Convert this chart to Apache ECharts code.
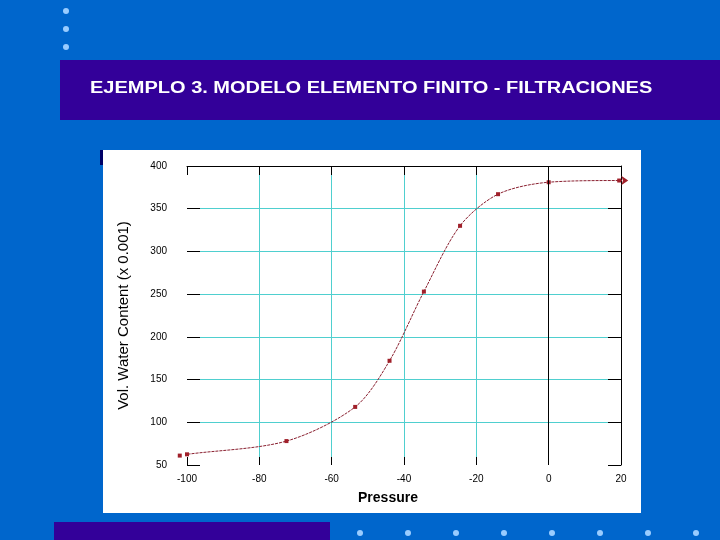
<!DOCTYPE html>
<html>
<head>
<meta charset="utf-8">
<title>Modelo elemento finito - filtraciones</title>
<script src="https://cdn.jsdelivr.net/npm/echarts@6/dist/echarts.min.js"></script>
<style>
  html, body { margin: 0; padding: 0; background: #0066cc; }
  #chart { width: 720px; height: 540px; }
</style>
</head>
<body>
<div id="chart"></div>
<script>
// curva de retención
var pressure = [-102, -100, -72.5, -53.5, -44, -34.5, -24.5, -14, 0, 19.5, 22];
var waterContent = [61, 62.5, 78, 118, 172, 253, 330, 367, 381, 383, 383];
var xTicks = { min: -100, max: 20, interval: 20 };
var yTicks = { min: 50, max: 400, interval: 50 };

var points = pressure.map(function (p, i) {
  var item = { value: [p, waterContent[i]] };
  if (i === pressure.length - 1) {
    item.symbol = "arrow";
    item.symbolRotate = -90;
    item.symbolSize = 7;
  }
  return item;
});

var gridColor = "#4fcfcf";
var dots = [];
[11, 29, 47].forEach(function (y) {
  dots.push({ type: "circle", shape: { cx: 66, cy: y, r: 3 }, style: { fill: "#99ccff" } });
});
[360, 408, 456, 504, 552, 600, 648, 696].forEach(function (x) {
  dots.push({ type: "circle", shape: { cx: x, cy: 533, r: 3 }, style: { fill: "#99ccff" } });
});

var myChart = echarts.init(document.getElementById("chart"));
myChart.setOption({
  backgroundColor: "#0066cc",
  animation: false,
  graphic: [
    { type: "rect", z: -10, shape: { x: 60, y: 60, width: 660, height: 60 }, style: { fill: "#330099" } },
    { type: "rect", z: -10, shape: { x: 103, y: 150, width: 538, height: 363 }, style: { fill: "#ffffff" } },
    { type: "rect", z: -10, shape: { x: 100, y: 150, width: 3, height: 15 }, style: { fill: "#000066" } },
    { type: "rect", z: -10, shape: { x: 54, y: 522, width: 276, height: 18 }, style: { fill: "#330099" } },
    {
      type: "text",
      x: 90,
      y: 89,
      scaleX: 1.25,
      style: {
        text: "EJEMPLO 3. MODELO ELEMENTO FINITO - FILTRACIONES",
        fill: "#ffffff",
        font: "bold 16px Arial, 'Liberation Sans', sans-serif",
        verticalAlign: "middle"
      }
    }
  ].concat(dots),
  grid: { left: 187, right: 99, top: 166, bottom: 75 },
  xAxis: [
    {
      type: "value",
      min: xTicks.min,
      max: xTicks.max,
      interval: xTicks.interval,
      name: "Pressure",
      nameLocation: "middle",
      nameGap: 26,
      nameTextStyle: {
        color: "#000",
        fontSize: 14,
        fontWeight: "bold",
        fontFamily: "Arial",
        padding: [0, 32, 0, 0]
      },
      axisLine: { show: false, onZero: false },
      axisTick: { show: true, inside: true, length: 8, lineStyle: { color: "#000" } },
      axisLabel: { color: "#000", fontSize: 10, fontFamily: "Arial", margin: 9 },
      splitLine: { show: true, showMinLine: false, lineStyle: { color: gridColor, width: 1 } }
    },
    {
      type: "value",
      position: "top",
      min: xTicks.min,
      max: xTicks.max,
      interval: xTicks.interval,
      axisLine: { show: true, onZero: false, lineStyle: { color: "#000" } },
      axisTick: { show: true, inside: true, length: 9, lineStyle: { color: "#000" } },
      axisLabel: { show: false },
      splitLine: { show: false }
    }
  ],
  yAxis: [
    {
      type: "value",
      min: yTicks.min,
      max: yTicks.max,
      interval: yTicks.interval,
      name: "Vol. Water Content (x 0.001)",
      nameLocation: "middle",
      nameGap: 56,
      nameTextStyle: { color: "#000", fontSize: 15, fontFamily: "Arial" },
      axisLine: { show: false, onZero: false },
      axisTick: { show: true, inside: true, length: 13, lineStyle: { color: "#000" } },
      axisLabel: { color: "#000", fontSize: 10, fontFamily: "Arial", margin: 20 },
      splitLine: { show: true, showMinLine: false, lineStyle: { color: gridColor, width: 1 } }
    },
    {
      type: "value",
      position: "right",
      min: yTicks.min,
      max: yTicks.max,
      interval: yTicks.interval,
      axisLine: { show: true, onZero: false, lineStyle: { color: "#000" } },
      axisTick: { show: true, inside: true, length: 13, lineStyle: { color: "#000" } },
      axisLabel: { show: false },
      splitLine: { show: false }
    }
  ],
  series: [
    {
      type: "line",
      data: points,
      clip: false,
      smooth: 0.3,
      symbol: "rect",
      symbolSize: 4,
      itemStyle: { color: "#a0202a" },
      lineStyle: { color: "#8a2030", width: 1, type: [3, 1] },
      markLine: {
        silent: true,
        symbol: "none",
        label: { show: false },
        lineStyle: { color: "#000", width: 1, type: "solid" },
        data: [{ xAxis: 0 }]
      }
    }
  ]
});
</script>
</body>
</html>
